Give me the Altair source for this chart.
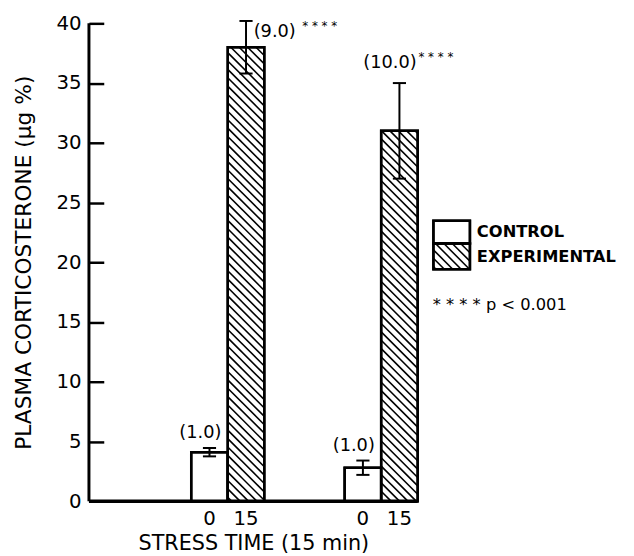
import altair as alt
import pandas as pd

# ---------------- data ----------------
stress_ticks = ["0", "15"]
control = [4.1, 2.8]
control_err = [0.35, 0.6]
experimental = [38.0, 31.0]
experimental_err = [2.2, 4.0]
control_note = ["(1.0)", "(1.0)"]
experimental_note = ["(9.0)", "(10.0)"]
stars = "* * * *"
y_ticks = [0, 5, 10, 15, 20, 25, 30, 35, 40]
legend_labels = ["CONTROL", "EXPERIMENTAL"]
p_note = "* * * * p < 0.001"

# ---------------- layout ----------------
W, H = 333, 484
X_MAX, Y_MAX = 9.0, 40.0
group_start = [2.8, 7.0]        # left edge of the control bar of each group
BAR_W = 1.0
CAP = 0.18
FONT = "DejaVu Sans"
px_x = W / X_MAX
px_y = H / Y_MAX
SLOPE = px_x / px_y             # 45 degree hatch in pixel space
STEP = 8.5 / px_y               # hatch spacing (y units)

xscale = alt.Scale(domain=[0, X_MAX], nice=False, zero=False)
yscale = alt.Scale(domain=[0, Y_MAX], nice=False, zero=True)
xaxis = alt.Axis(labels=False, ticks=False, domain=False, grid=False,
                 title="STRESS TIME (15 min)", titleFont=FONT, titleFontSize=21,
                 titleFontWeight="normal", titleColor="black", titlePadding=32)
yaxis = alt.Axis(values=y_ticks, domain=False, grid=False, tickSize=15, offset=-15,
                 tickWidth=2.5, tickColor="black", labelFont=FONT, labelFontSize=20,
                 labelColor="black", labelPadding=8,
                 title="PLASMA CORTICOSTERONE (μg %)", titleFont=FONT, titleFontSize=22,
                 titleFontWeight="normal", titleColor="black", titlePadding=21)


def X(f):
    return alt.X(f, type="quantitative", scale=xscale, axis=xaxis)


def Y(f):
    return alt.Y(f, type="quantitative", scale=yscale, axis=yaxis)


def hatch(x0, x1, y0, y1):
    segs = []
    kmin = y0 + SLOPE * x0
    kmax = y1 + SLOPE * x1
    m = int(kmin // STEP) + 1
    while m * STEP < kmax:
        k = m * STEP
        ya = k - SLOPE * x0
        if ya <= y1:
            sx, sy = x0, ya
        else:
            sx, sy = (k - y1) / SLOPE, y1
        yb = k - SLOPE * x1
        if yb >= y0:
            ex, ey = x1, yb
        else:
            ex, ey = (k - y0) / SLOPE, y0
        if ex - sx > 1e-6:
            segs.append({"hx": sx, "hy": sy, "hx2": ex, "hy2": ey})
        m += 1
    return segs


bars, errs, caps, hat, texts_c, notes_c = [], [], [], [], [], []
for g in range(len(control)):
    xs = group_start[g]
    for kind, vals, ers, off in (("c", control, control_err, 0.0),
                                 ("e", experimental, experimental_err, BAR_W)):
        x0, x1 = xs + off, xs + off + BAR_W
        v, e = vals[g], ers[g]
        bars.append({"x0": x0, "x1": x1, "y0": 0.0, "v": v})
        cx = (x0 + x1) / 2
        errs.append({"ex": cx, "ey": v - e, "ey2": v + e})
        caps.append({"cx": cx - CAP, "cx2": cx + CAP, "cy": v - e})
        caps.append({"cx": cx - CAP, "cx2": cx + CAP, "cy": v + e})
        texts_c.append({"tx": cx, "ty": 0.0, "t": stress_ticks[0 if kind == "c" else 1]})
        if kind == "e":
            hat += hatch(x0, x1, 0.0, v)
        else:
            notes_c.append({"tx": cx - 0.25, "ty": v + e + 1.25, "t": control_note[g]})

df_bars = pd.DataFrame(bars)
df_err = pd.DataFrame(errs)
df_caps = pd.DataFrame(caps)

# legend (placed to the right of the plot, in data units)
LX0, LX1 = 9.43, 10.43
LY = [23.47, 21.57, 19.42]
df_leg = pd.DataFrame([{"x0": LX0, "x1": LX1, "y0": LY[1], "v": LY[0]},
                       {"x0": LX0, "x1": LX1, "y0": LY[2], "v": LY[1]}])
hat += hatch(LX0, LX1, LY[2], LY[1])
df_hatch = pd.DataFrame(hat)

df_leg_text = pd.DataFrame([{"tx": 10.62, "ty": 22.55, "t": legend_labels[0]},
                            {"tx": 10.62, "ty": 20.45, "t": legend_labels[1]}])
df_p = pd.DataFrame([{"tx": 9.41, "ty": 16.45, "t": p_note}])

df_note_left = pd.DataFrame([{"tx": 4.51, "ty": 39.3, "t": experimental_note[0]}])
df_note_right = pd.DataFrame([{"tx": 8.97, "ty": 36.7, "t": experimental_note[1]}])
df_stars = pd.DataFrame([{"tx": 5.84, "ty": 39.8, "t": stars},
                         {"tx": 9.02, "ty": 37.2, "t": stars}])

df_base = pd.DataFrame([{"x0": 0.0, "x1": X_MAX, "y": 0.0}])
df_yline = pd.DataFrame([{"x": 0.0, "y0": 0.0, "y1": Y_MAX}])

rect_style = dict(fill="white", stroke="black", strokeWidth=2.5)

bars_fill = alt.Chart(df_bars).mark_rect(**rect_style).encode(
    x=X("x0"), x2="x1", y=Y("v"), y2="y0")
leg_fill = alt.Chart(df_leg).mark_rect(**rect_style).encode(
    x=X("x0"), x2="x1", y=Y("v"), y2="y0")
hatch_l = alt.Chart(df_hatch).mark_rule(color="black", strokeWidth=1.6).encode(
    x=X("hx"), x2="hx2", y=Y("hy"), y2="hy2")
bars_out = alt.Chart(df_bars).mark_rect(fillOpacity=0, stroke="black", strokeWidth=2.5).encode(
    x=X("x0"), x2="x1", y=Y("v"), y2="y0")
leg_out = alt.Chart(df_leg).mark_rect(fillOpacity=0, stroke="black", strokeWidth=2.5).encode(
    x=X("x0"), x2="x1", y=Y("v"), y2="y0")
err_l = alt.Chart(df_err).mark_rule(color="black", strokeWidth=2).encode(
    x=X("ex"), y=Y("ey"), y2="ey2")
cap_l = alt.Chart(df_caps).mark_rule(color="black", strokeWidth=2).encode(
    x=X("cx"), x2="cx2", y=Y("cy"))
base_l = alt.Chart(df_base).mark_rule(color="black", strokeWidth=3.5).encode(
    x=X("x0"), x2="x1", y=Y("y"))
yline_l = alt.Chart(df_yline).mark_rule(color="black", strokeWidth=3).encode(
    x=X("x"), y=Y("y0"), y2="y1")


def text_layer(df, size, align="center", dy=0, weight="normal"):
    return alt.Chart(df).mark_text(font=FONT, fontSize=size, align=align, baseline="middle",
                                   dy=dy, color="black", fontWeight=weight).encode(
        x=X("tx"), y=Y("ty"), text="t:N")


xt = text_layer(pd.DataFrame(texts_c), 20, dy=18)
nc = text_layer(pd.DataFrame(notes_c), 18)
nl = text_layer(df_note_left, 18, align="left")
nr = text_layer(df_note_right, 18, align="right")
st = text_layer(df_stars, 12, align="left")
lt = text_layer(df_leg_text, 16.5, align="left", weight="bold")
pt = text_layer(df_p, 16.5, align="left")

chart = alt.layer(
    bars_fill, leg_fill, hatch_l, bars_out, leg_out, err_l, cap_l, base_l, yline_l,
    xt, nc, nl, nr, st, lt, pt
).properties(
    width=W, height=H,
    autosize=alt.AutoSizeParams(type="none"),
    padding={"left": 82, "top": 12, "right": 211, "bottom": 52},
    background="white",
).configure_view(stroke=None)

chart.save("out.html", embed_options={"renderer": "svg", "actions": False})
